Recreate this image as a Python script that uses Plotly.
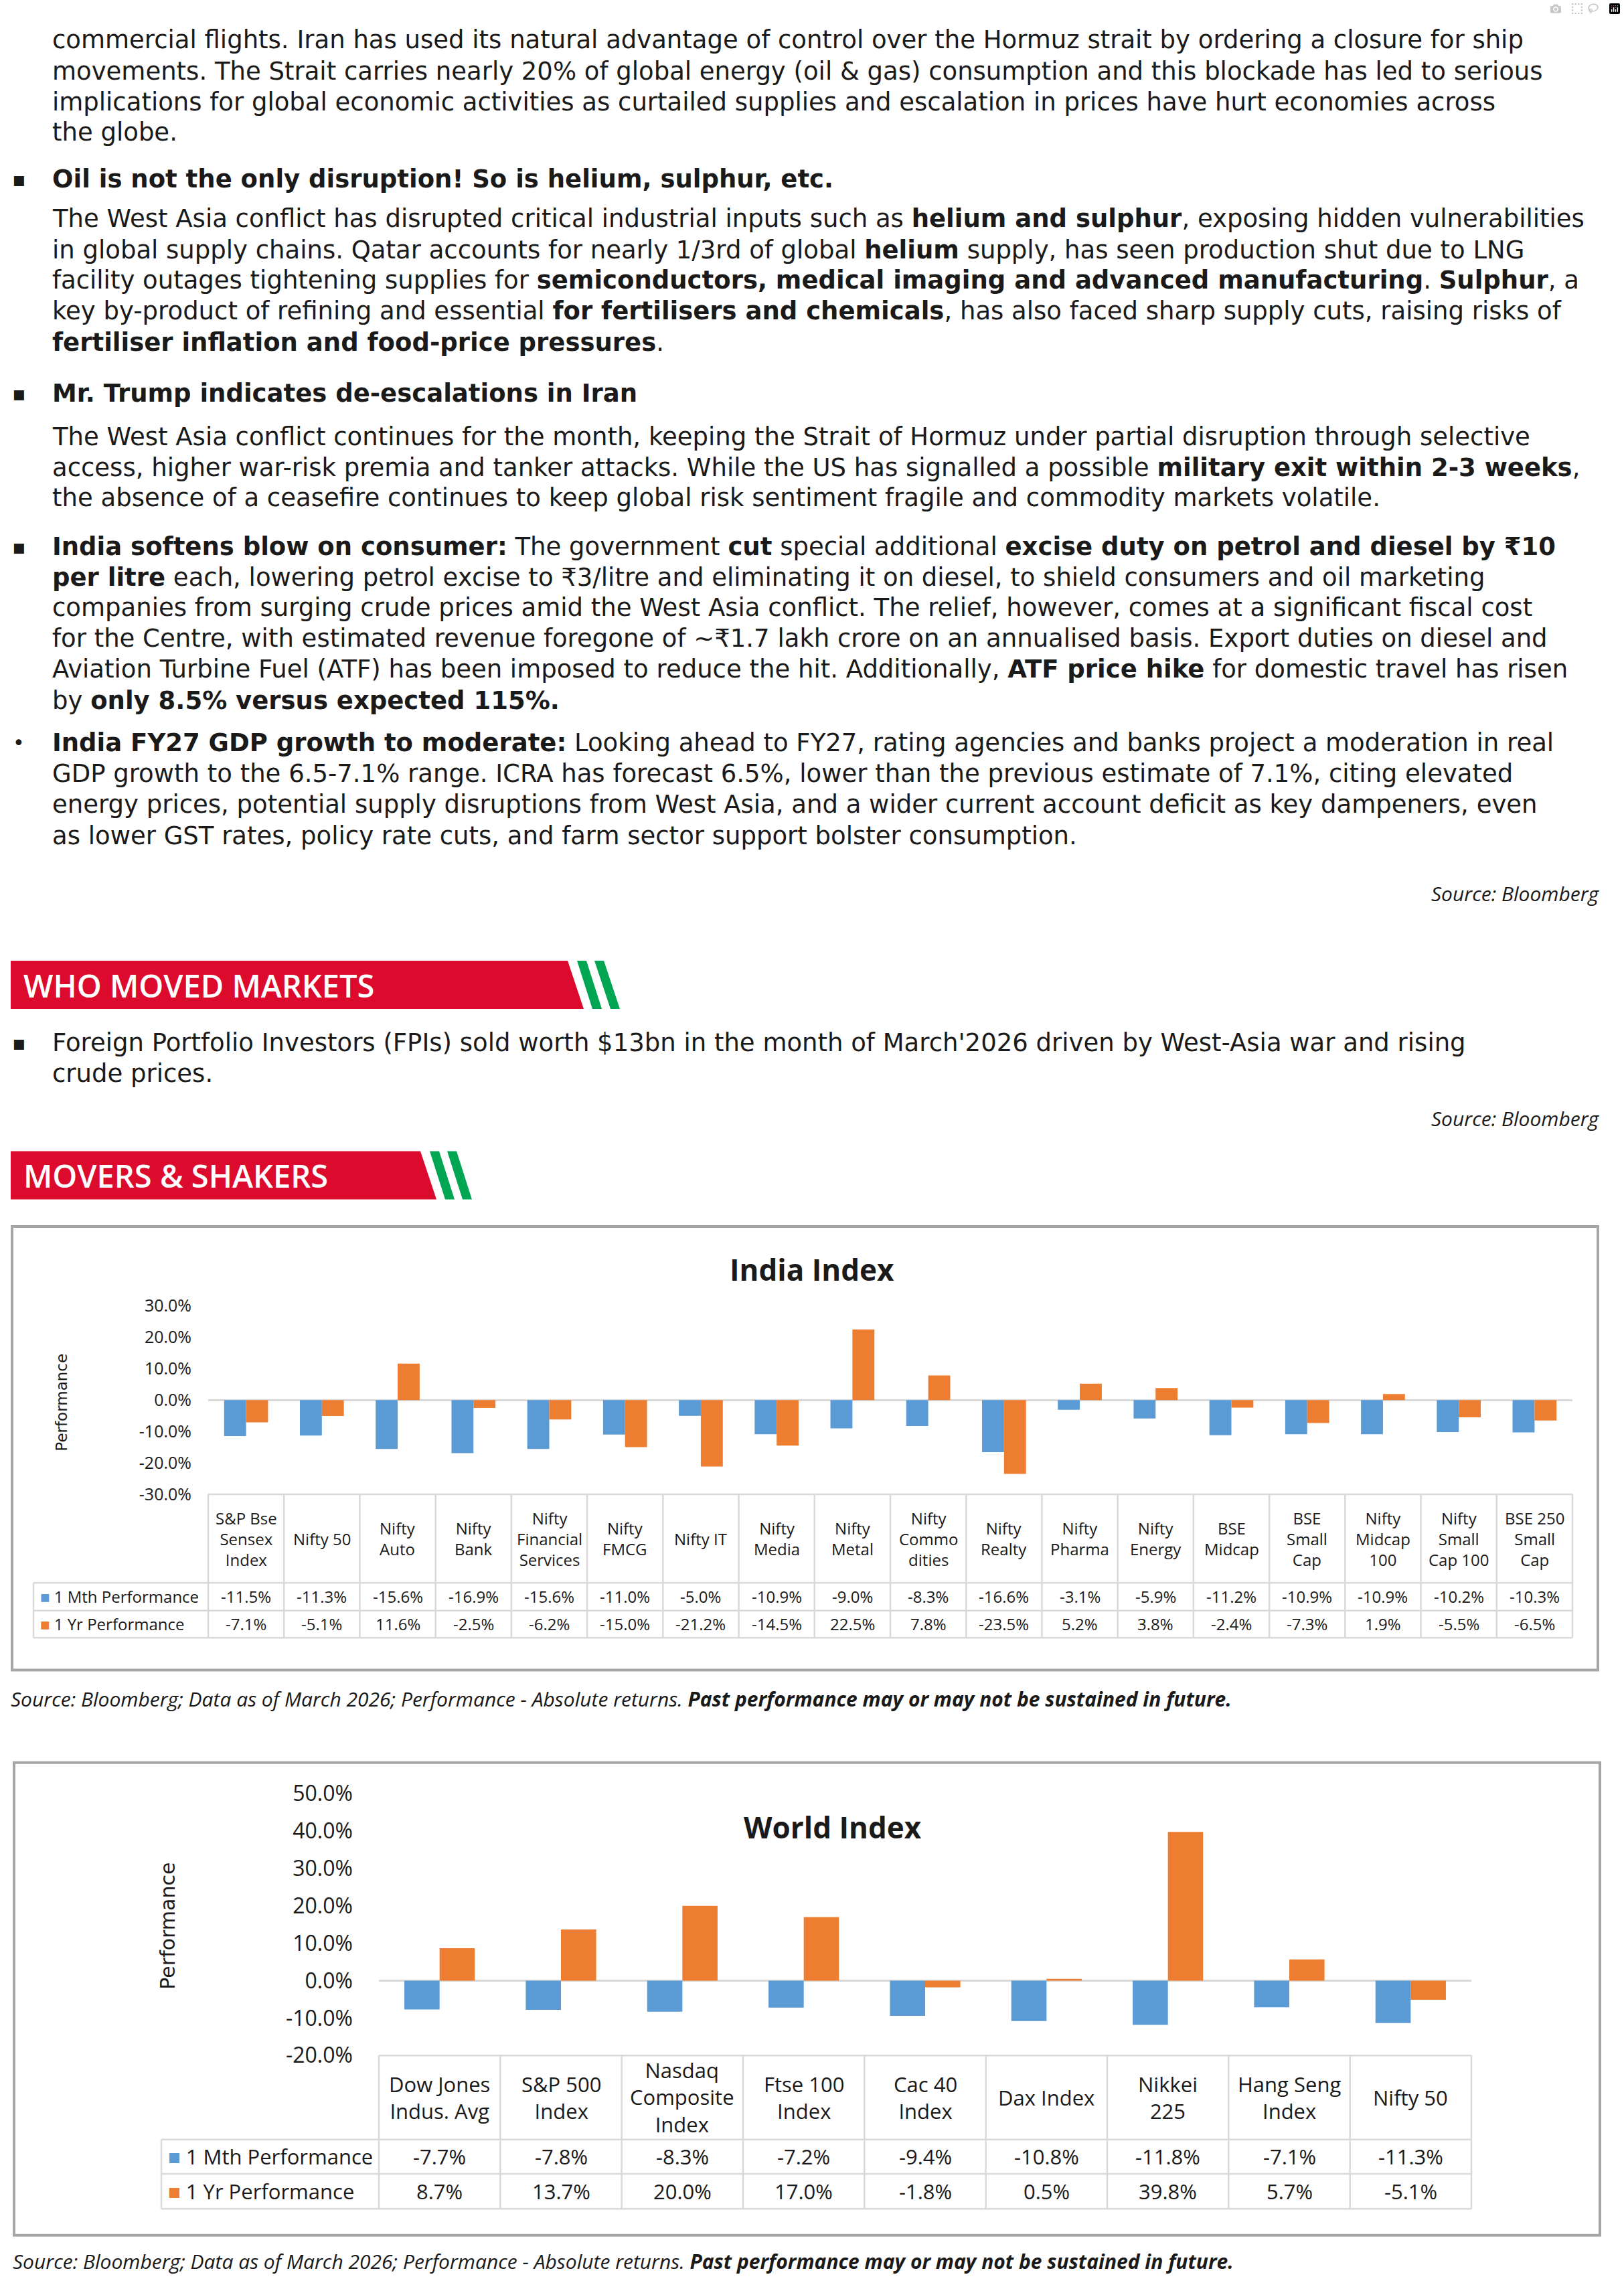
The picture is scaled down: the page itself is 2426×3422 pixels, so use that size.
import plotly.graph_objects as go

# ---------------- DATA ----------------
india_categories = ["S&P Bse<br>Sensex<br>Index", "Nifty 50", "Nifty<br>Auto", "Nifty<br>Bank",
                    "Nifty<br>Financial<br>Services", "Nifty<br>FMCG", "Nifty IT", "Nifty<br>Media",
                    "Nifty<br>Metal", "Nifty<br>Commo<br>dities", "Nifty<br>Realty", "Nifty<br>Pharma",
                    "Nifty<br>Energy", "BSE<br>Midcap", "BSE<br>Small<br>Cap", "Nifty<br>Midcap<br>100",
                    "Nifty<br>Small<br>Cap 100", "BSE 250<br>Small<br>Cap"]
india_1m = [-11.5, -11.3, -15.6, -16.9, -15.6, -11.0, -5.0, -10.9, -9.0, -8.3, -16.6, -3.1, -5.9, -11.2, -10.9, -10.9, -10.2, -10.3]
india_1y = [-7.1, -5.1, 11.6, -2.5, -6.2, -15.0, -21.2, -14.5, 22.5, 7.8, -23.5, 5.2, 3.8, -2.4, -7.3, 1.9, -5.5, -6.5]

world_categories = ["Dow Jones<br>Indus. Avg", "S&P 500<br>Index", "Nasdaq<br>Composite<br>Index", "Ftse 100<br>Index",
                    "Cac 40<br>Index", "Dax Index", "Nikkei<br>225", "Hang Seng<br>Index", "Nifty 50"]
world_1m = [-7.7, -7.8, -8.3, -7.2, -9.4, -10.8, -11.8, -7.1, -11.3]
world_1y = [8.7, 13.7, 20.0, 17.0, -1.8, 0.5, 39.8, 5.7, -5.1]

series_names = ["1 Mth Performance", "1 Yr Performance"]
india_yticks = [-30, -20, -10, 0, 10, 20, 30]
world_yticks = [-20, -10, 0, 10, 20, 30, 40, 50]

# ---------------- STYLE ----------------
W, H = 2426, 3422
BLUE, ORANGE = "#5B9BD5", "#ED7D31"
GRID, BOX = "#D9D9D9", "#A6A6A6"
RED, GREEN = "#DC0A2D", "#00A651"
TXT = "#1A1A1A"
FONT = "Open Sans"
BODY_FONT = "DejaVu Sans"


def px(x):
    return x / W


def py(y):
    return 1 - y / H


fig = go.Figure()
annotations = []
shapes = []

# ---------------- BODY TEXT ----------------
body_lines = [
    (37, None, "commercial flights. Iran has used its natural advantage of control over the Hormuz strait by ordering a closure for ship"),
    (85, None, "movements. The Strait carries nearly 20% of global energy (oil & gas) consumption and this blockade has led to serious"),
    (131, None, "implications for global economic activities as curtailed supplies and escalation in prices have hurt economies across"),
    (177, None, "the globe."),
    (248, "▪", "<b>Oil is not the only disruption! So is helium, sulphur, etc.</b>"),
    (307, None, "The West Asia conflict has disrupted critical industrial inputs such as <b>helium and sulphur</b>, exposing hidden vulnerabilities"),
    (355, None, "in global supply chains. Qatar accounts for nearly 1/3rd of global <b>helium</b> supply, has seen production shut due to LNG"),
    (401, None, "facility outages tightening supplies for <b>semiconductors, medical imaging and advanced manufacturing</b>. <b>Sulphur</b>, a"),
    (447, None, "key by-product of refining and essential <b>for fertilisers and chemicals</b>, has also faced sharp supply cuts, raising risks of"),
    (495, None, "<b>fertiliser inflation and food-price pressures</b>."),
    (572, "▪", "<b>Mr. Trump indicates de-escalations in Iran</b>"),
    (638, None, "The West Asia conflict continues for the month, keeping the Strait of Hormuz under partial disruption through selective"),
    (684, None, "access, higher war-risk premia and tanker attacks. While the US has signalled a possible <b>military exit within 2-3 weeks</b>,"),
    (730, None, "the absence of a ceasefire continues to keep global risk sentiment fragile and commodity markets volatile."),
    (804, "▪", "<b>India softens blow on consumer:</b> The government <b>cut</b> special additional <b>excise duty on petrol and diesel by ₹10</b>"),
    (850, None, "<b>per litre</b> each, lowering petrol excise to ₹3/litre and eliminating it on diesel, to shield consumers and oil marketing"),
    (896, None, "companies from surging crude prices amid the West Asia conflict. The relief, however, comes at a significant fiscal cost"),
    (942, None, "for the Centre, with estimated revenue foregone of ~₹1.7 lakh crore on an annualised basis. Export duties on diesel and"),
    (989, None, "Aviation Turbine Fuel (ATF) has been imposed to reduce the hit. Additionally, <b>ATF price hike</b> for domestic travel has risen"),
    (1037, None, "by <b>only 8.5% versus expected 115%.</b>"),
    (1100, "•", "<b>India FY27 GDP growth to moderate:</b> Looking ahead to FY27, rating agencies and banks project a moderation in real"),
    (1147, None, "GDP growth to the 6.5-7.1% range. ICRA has forecast 6.5%, lower than the previous estimate of 7.1%, citing elevated"),
    (1194, None, "energy prices, potential supply disruptions from West Asia, and a wider current account deficit as key dampeners, even"),
    (1241, None, "as lower GST rates, policy rate cuts, and farm sector support bolster consumption."),
    (1554, "▪", "Foreign Portfolio Investors (FPIs) sold worth $13bn in the month of March'2026 driven by West-Asia war and rising"),
    (1601, None, "crude prices."),
]
BODY_SIZE = 37
for yc, bullet, txt in body_lines:
    annotations.append(dict(xref="paper", yref="paper", x=px(77), y=py(yc), xanchor="left", yanchor="middle",
                            text=txt, showarrow=False, borderpad=0,
                            font=dict(family=BODY_FONT, size=BODY_SIZE, color=TXT)))
    if bullet:
        annotations.append(dict(xref="paper", yref="paper", x=px(28), y=py(yc), xanchor="center", yanchor="middle",
                                text=bullet, showarrow=False, borderpad=0,
                                font=dict(family="DejaVu Sans", size=30, color=TXT)))

for yc in (1328, 1668):
    annotations.append(dict(xref="paper", yref="paper", x=px(2392), y=py(yc), xanchor="right", yanchor="middle",
                            text="<i>Source: Bloomberg</i>", showarrow=False,
                            font=dict(family=FONT, size=30, color=TXT)))

# ---------------- SECTION BANDS ----------------
def band(x_left, x_top_right, x_bot_right, y_top, y_bot, title, stripes):
    shapes.append(dict(type="path", xref="paper", yref="paper", line=dict(width=0), fillcolor=RED,
                       path=f"M {px(x_left)},{py(y_top)} L {px(x_top_right)},{py(y_top)} L {px(x_bot_right)},{py(y_bot)} L {px(x_left)},{py(y_bot)} Z"))
    for (a, b, c, d) in stripes:
        shapes.append(dict(type="path", xref="paper", yref="paper", line=dict(width=0), fillcolor=GREEN,
                           path=f"M {px(a)},{py(y_top)} L {px(b)},{py(y_top)} L {px(d)},{py(y_bot)} L {px(c)},{py(y_bot)} Z"))
    annotations.append(dict(xref="paper", yref="paper", x=px(x_left + 17), y=py((y_top + y_bot) / 2 + 1),
                            xanchor="left", yanchor="middle", text=title, showarrow=False,
                            font=dict(family=FONT, size=47, color="white", weight=600)))


band(16, 848, 872, 1430, 1503, "WHO MOVED MARKETS", [(862, 876, 885, 899), (888, 902, 912, 926)])
band(16, 628, 652, 1718, 1791, "MOVERS &amp; SHAKERS", [(642, 656, 665, 679), (668, 682, 691, 705)])

# ---------------- CHART BUILDER ----------------
def chart(idx, cats, s1, s2, box, plot, title_xy, title_size, yticks, yrange, tick_fs, table_fs, standoff,
          ytitle_xy, ytitle_size, rows, label_left, source_y):
    xa = "x" if idx == 1 else f"x{idx}"
    ya = "y" if idx == 1 else f"y{idx}"
    n = len(cats)
    pos = list(range(n))
    fig.add_trace(go.Bar(x=pos, y=s1, name=series_names[0], marker=dict(color=BLUE, line=dict(width=0)),
                         xaxis=xa, yaxis=ya, showlegend=False))
    fig.add_trace(go.Bar(x=pos, y=s2, name=series_names[1], marker=dict(color=ORANGE, line=dict(width=0)),
                         xaxis=xa, yaxis=ya, showlegend=False))
    pl, pt, pr, pb = plot
    xkey = "xaxis" if idx == 1 else f"xaxis{idx}"
    ykey = "yaxis" if idx == 1 else f"yaxis{idx}"
    fig.update_layout(**{
        xkey: dict(domain=[px(pl), px(pr)], anchor=ya, range=[-0.5, n - 0.5], showticklabels=False,
                   showgrid=False, zeroline=False, showline=False, fixedrange=True),
        ykey: dict(domain=[py(pb), py(pt)], anchor=xa, range=yrange, tickmode="array", tickvals=yticks,
                   ticktext=[f"{v:.1f}%" for v in yticks], showgrid=False, zeroline=True,
                   zerolinecolor=GRID, zerolinewidth=3,
                   showline=False, tickfont=dict(family=FONT, size=tick_fs, color=TXT),
                   ticklabelstandoff=standoff, fixedrange=True),
    })
    bl, bt, br, bb = box
    shapes.append(dict(type="rect", xref="paper", yref="paper", x0=px(bl), x1=px(br), y0=py(bb), y1=py(bt),
                       line=dict(color=BOX, width=4), fillcolor="rgba(0,0,0,0)"))
    annotations.append(dict(xref="paper", yref="paper", x=px(title_xy[0]), y=py(title_xy[1]), xanchor="center",
                            yanchor="middle", text=f"<b>{title_xy[2]}</b>", showarrow=False,
                            font=dict(family=FONT, size=title_size, color=TXT)))
    annotations.append(dict(xref="paper", yref="paper", x=px(ytitle_xy[0]), y=py(ytitle_xy[1]), xanchor="center",
                            yanchor="middle", text="Performance", textangle=-90, showarrow=False,
                            font=dict(family="DejaVu Sans", size=ytitle_size, color=TXT)))
    top, hb, r1b, r2b = rows
    lw = 2.5
    xd = f"{xa} domain"
    for yy in (top, hb, r1b, r2b):
        shapes.append(dict(type="line", xref=xd, yref="paper", x0=0, x1=1, y0=py(yy), y1=py(yy),
                           line=dict(color=GRID, width=lw)))
    for yy in (hb, r1b, r2b):
        shapes.append(dict(type="line", xref="paper", yref="paper", x0=px(label_left), x1=px(pl), y0=py(yy),
                           y1=py(yy), line=dict(color=GRID, width=lw)))
    shapes.append(dict(type="line", xref="paper", yref="paper", x0=px(label_left), x1=px(label_left),
                       y0=py(hb), y1=py(r2b), line=dict(color=GRID, width=lw)))
    for i in range(1, n):
        shapes.append(dict(type="line", xref=xa, yref="paper", x0=i - 0.5, x1=i - 0.5, y0=py(top), y1=py(r2b),
                           line=dict(color=GRID, width=lw)))
    for e in (0, 1):
        shapes.append(dict(type="line", xref=xd, yref="paper", x0=e, x1=e, y0=py(top), y1=py(r2b),
                           line=dict(color=GRID, width=lw)))
    for i, c in enumerate(cats):
        annotations.append(dict(xref=xa, yref="paper", x=i, y=py((top + hb) / 2), xanchor="center",
                                yanchor="middle", text=c, showarrow=False, align="center",
                                font=dict(family=FONT, size=table_fs, color=TXT)))
        for vals, (ra, rb) in ((s1, (hb, r1b)), (s2, (r1b, r2b))):
            annotations.append(dict(xref=xa, yref="paper", x=i, y=py((ra + rb) / 2), xanchor="center",
                                    yanchor="middle", text=f"{vals[i]:.1f}%", showarrow=False,
                                    font=dict(family=FONT, size=table_fs, color=TXT)))
    for name, col, (ra, rb) in ((series_names[0], BLUE, (hb, r1b)), (series_names[1], ORANGE, (r1b, r2b))):
        annotations.append(dict(xref="paper", yref="paper", x=px(label_left + 8), y=py((ra + rb) / 2),
                                xanchor="left", yanchor="middle",
                                text=f"<span style='color:{col}'>■</span> {name}", showarrow=False,
                                font=dict(family=FONT, size=table_fs, color=TXT)))
    annotations.append(dict(xref="paper", yref="paper", x=px(bl - 4), y=py(source_y), xanchor="left",
                            yanchor="middle", showarrow=False,
                            text="<i>Source: Bloomberg; Data as of March 2026; Performance - Absolute returns. "
                                 "<b>Past performance may or may not be sustained in future.</b></i>",
                            font=dict(family=FONT, size=30, color=TXT)))


chart(1, india_categories, india_1m, india_1y,
      box=(18, 1832, 2387, 2503), plot=(311, 1952, 2349, 2237), title_xy=(1213, 1897, "India Index"),
      title_size=44, yticks=india_yticks, yrange=[-30, 30], tick_fs=25, table_fs=24, standoff=24,
      ytitle_xy=(92, 2098), ytitle_size=23, rows=(2237, 2371, 2413, 2454), label_left=50, source_y=2546)

chart(2, world_categories, world_1m, world_1y,
      box=(21, 2643, 2390, 3358), plot=(566, 2690, 2198, 3086), title_xy=(1244, 2740, "World Index"),
      title_size=44, yticks=world_yticks, yrange=[-20, 50], tick_fs=32, table_fs=31, standoff=38,
      ytitle_xy=(251, 2890), ytitle_size=30, rows=(3086, 3213, 3265, 3318), label_left=241, source_y=3397)

fig.update_layout(width=W, height=H, margin=dict(l=0, r=0, t=0, b=0), paper_bgcolor="white",
                  plot_bgcolor="rgba(0,0,0,0)", barmode="group", bargap=0.42, bargroupgap=0,
                  showlegend=False, annotations=annotations, shapes=shapes,
                  font=dict(family=FONT, color=TXT))

fig.write_html("out.html", post_script="document.body.style.margin='0';")
